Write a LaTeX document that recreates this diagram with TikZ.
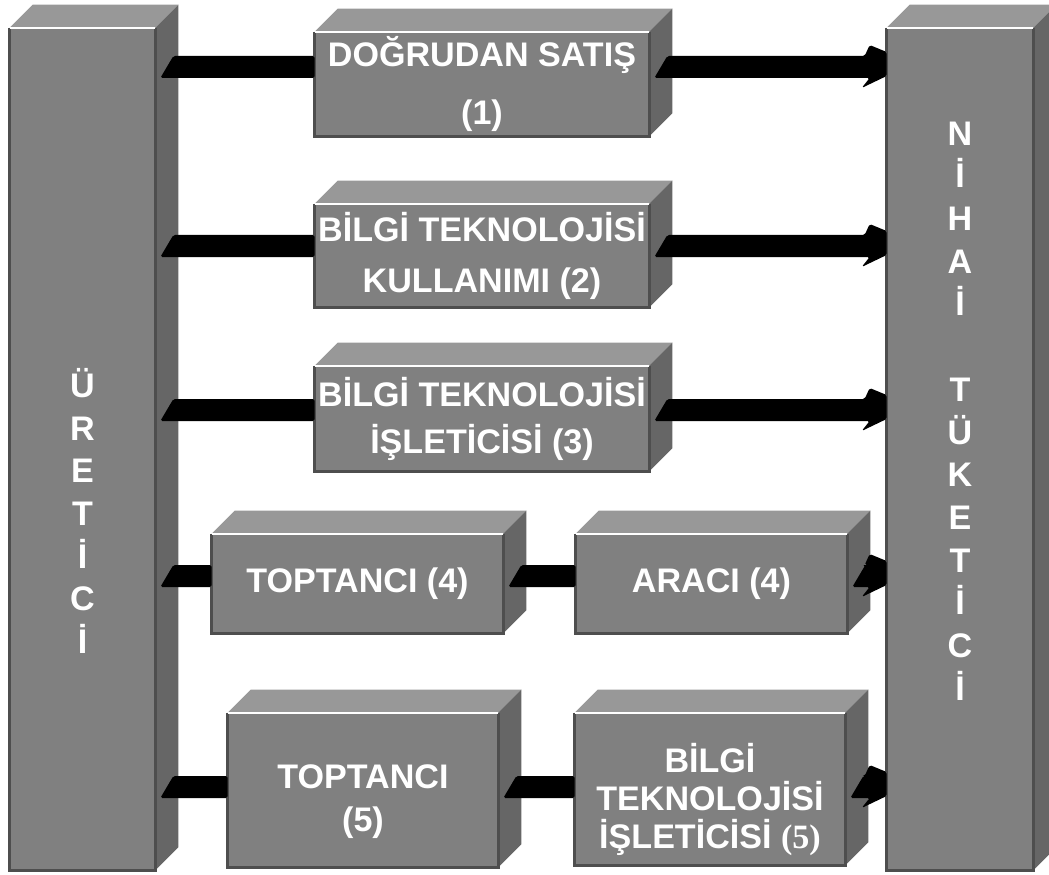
\documentclass[tikz,border=0pt]{standalone}
\usepackage{fontspec}
\setmainfont{Liberation Sans}
\newfontfamily\timesbd{Liberation Serif}
\usepackage{tikz}
\usetikzlibrary{calc}
\definecolor{facegray}{RGB}{128,128,128}
\definecolor{topgray}{RGB}{152,152,152}
\definecolor{sidegray}{RGB}{102,102,102}
\definecolor{edgegray}{RGB}{78,78,78}
\newcommand{\boxfont}[1]{\bfseries\fontsize{19.4}{#1}\selectfont}
\tikzstyle{frontbox} = [rectangle, fill=facegray, text=white, align=center, inner sep=0pt, font=\boxfont{29pt}]
\tikzstyle{lettercol} = [text=white, align=center, inner sep=0pt, font=\boxfont{24.3pt}]
\tikzstyle{bar} = [fill=black, line join=round, rounded corners=1pt]

% top and side face of a box, drawn round its front node
\newcommand{\boxfaces}[1]{%
  \fill[topgray] (#1.north west) -- ([shift={(23,-23)}]#1.north west) -- ([shift={(23,-23)}]#1.north east) -- (#1.north east) -- cycle;
  \fill[sidegray] (#1.north east) -- ([shift={(23,-23)}]#1.north east) -- ([shift={(23,-23)}]#1.south east) -- (#1.south east) -- cycle;
  \draw[edgegray, line width=1.5pt] (#1.north west) -- (#1.south west) -- (#1.south east) -- (#1.north east);
  \draw[white, line width=1.2pt] (#1.north west) -- (#1.north east);
}
% black band from #1 into #2, top edge at y=#3
\newcommand{\flowbar}[3]{%
  \coordinate (s) at (#1.east |- 0,#3);
  \coordinate (e) at (#2.west |- 0,#3);
  \fill[bar] ([shift={(5,22)}]s) -- ([shift={(18,0)}]s) -- (e) -- ([shift={(0,22)}]e) -- cycle;
}
% same band with a head at #2
\newcommand{\flowarrow}[3]{%
  \coordinate (s) at (#1.east |- 0,#3);
  \coordinate (e) at (#2.west |- 0,#3);
  \fill[bar] ([shift={(5,22)}]s) -- ([shift={(18,0)}]s) -- ([shift={(-22,0)}]e) -- ([shift={(-17,-11)}]e)
    -- ([shift={(0,-4)}]e) -- ([shift={(0,20)}]e) -- ([shift={(-25,32)}]e) -- ([shift={(-17,22)}]e) -- cycle;
}

\begin{document}
\begin{tikzpicture}[x=0.02cm, y=-0.02cm]
\useasboundingbox (0,0) rectangle (1049,875);
\clip (0,0) rectangle (1049,875);

% producer and consumer
\node[frontbox, minimum width=2.9cm, minimum height=16.84cm] (uretici) at (82.5,449) {};
\boxfaces{uretici}
\node[lettercol] (uretici-text) at (82.5,511) {Ü\\R\\E\\T\\İ\\C\\İ};

\node[frontbox, minimum width=2.92cm, minimum height=16.84cm] (tuketici) at (960,449) {};
\boxfaces{tuketici}
\node[lettercol] (tuketici-text) at (960,411) {N\\İ\\H\\A\\İ\\[24.3pt]T\\Ü\\K\\E\\T\\İ\\C\\İ};

% channels
\node[frontbox, minimum width=6.68cm, minimum height=2.08cm, font=\boxfont{33pt}] (dogrudan) at (482,84) {DOĞRUDAN SATIŞ\\(1)};
\boxfaces{dogrudan}
\node[frontbox, minimum width=6.68cm, minimum height=2.06cm] (kullanim) at (482,255.5) {BİLGİ TEKNOLOJİSİ\\KULLANIMI (2)};
\boxfaces{kullanim}
\node[frontbox, minimum width=6.68cm, minimum height=2.1cm, font=\boxfont{26.8pt}] (isletici) at (482,418.5) {BİLGİ TEKNOLOJİSİ\\İŞLETİCİSİ (3)};
\boxfaces{isletici}
\node[frontbox, minimum width=5.82cm, minimum height=1.98cm] (toptanci4) at (357.5,583.5) {TOPTANCI (4)};
\boxfaces{toptanci4}
\node[frontbox, minimum width=5.42cm, minimum height=1.98cm] (araci4) at (711.5,583.5) {ARACI (4)};
\boxfaces{araci4}
\node[frontbox, minimum width=5.4cm, minimum height=3.08cm, font=\boxfont{24.5pt}] (toptanci5) at (363,790) {\rule{0pt}{0.96cm}TOPTANCI\\(5)};
\boxfaces{toptanci5}
\node[frontbox, minimum width=5.4cm, minimum height=3.04cm, font=\boxfont{21.7pt}] (isletici5) at (710,789) {\rule{0pt}{1.02cm}BİLGİ\\TEKNOLOJİSİ\\İŞLETİCİSİ {\timesbd(5)}};
\boxfaces{isletici5}

% flows
\flowbar{uretici}{dogrudan}{56}
\flowarrow{dogrudan}{tuketici}{56}
\flowbar{uretici}{kullanim}{235}
\flowarrow{kullanim}{tuketici}{235}
\flowbar{uretici}{isletici}{399}
\flowarrow{isletici}{tuketici}{399}
\flowbar{uretici}{toptanci4}{565}
\flowbar{toptanci4}{araci4}{565}
\flowarrow{araci4}{tuketici}{565}
\flowbar{uretici}{toptanci5}{776}
\flowbar{toptanci5}{isletici5}{776}
\flowarrow{isletici5}{tuketici}{776}
\end{tikzpicture}
\end{document}
